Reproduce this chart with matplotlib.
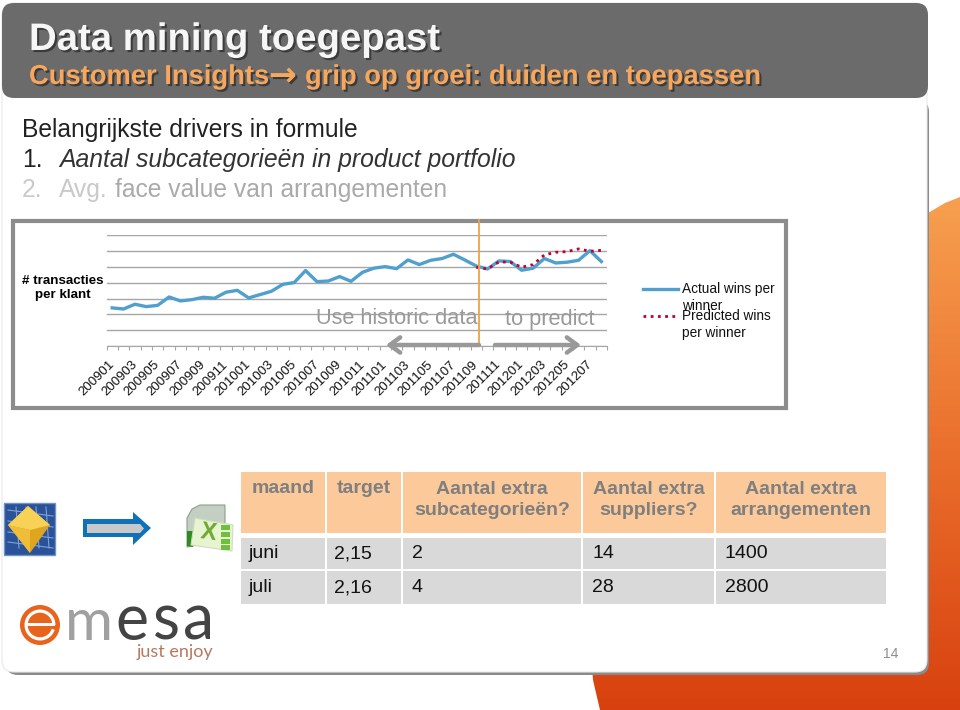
import numpy as np
import matplotlib
matplotlib.use('Agg')
import matplotlib.pyplot as plt
import matplotlib.patheffects as pe
from matplotlib.patches import FancyBboxPatch, Rectangle, Polygon, Circle, Wedge
from matplotlib.colors import LinearSegmentedColormap
from matplotlib.transforms import ScaledTranslation

plt.rcParams['font.family'] = ['Liberation Sans', 'DejaVu Sans']

# chart data
months = ['200901', '200902', '200903', '200904', '200905', '200906', '200907', '200908', '200909', '200910', '200911',
          '200912', '201001', '201002', '201003', '201004', '201005', '201006', '201007', '201008', '201009', '201010',
          '201011', '201012', '201101', '201102', '201103', '201104', '201105', '201106', '201107', '201108', '201109',
          '201110', '201111', '201112', '201201', '201202', '201203', '201204', '201205', '201206', '201207', '201208']
actual = [2.41, 2.34, 2.64, 2.49, 2.57, 3.10, 2.85, 2.93, 3.08, 3.02, 3.40, 3.52, 3.04, 3.25, 3.46, 3.90, 4.01, 4.77,
          4.07, 4.11, 4.39, 4.09, 4.66, 4.92, 5.02, 4.89, 5.44, 5.15, 5.42, 5.53, 5.80, 5.44, 5.06, 4.87, 5.38, 5.34,
          4.79, 4.92, 5.53, 5.25, 5.30, 5.42, 6.03, 5.34]
predicted = [4.98, 4.87, 5.32, 5.30, 4.98, 5.15, 5.76, 5.93, 5.97, 6.14, 5.99, 6.05]

# table data
table_header = ['maand', 'target', 'Aantal extra\nsubcategorieën?', 'Aantal extra\nsuppliers?', 'Aantal extra\narrangementen']
table_rows = [['juni', '2,15', '2', '14', '1400'],
              ['juli', '2,16', '4', '28', '2800']]

W, H = 960, 710
fig = plt.figure(figsize=(9.6, 7.1), dpi=100, facecolor='white')

# full page layer in pixel coordinates
bg = fig.add_axes([0, 0, 1, 1], zorder=1)
bg.axis('off')

# orange background, top lighter than bottom
cmap = LinearSegmentedColormap.from_list('bg', ['#f7a050', '#ea6f2c', '#d8410f'])
grad = bg.imshow(np.linspace(0, 1, 256).reshape(-1, 1), extent=[0, W, 710, 195], aspect='auto', cmap=cmap, zorder=1)
clip = Polygon([[960, 197], [945, 203], [928, 213], [900, 240], [900, 640], [590, 640], [593, 680], [600, 710], [960, 710]],
               closed=True, transform=bg.transData, facecolor='none', edgecolor='none')
bg.add_patch(clip)
grad.set_clip_path(clip)
bg.set_xlim(0, W)
bg.set_ylim(H, 0)

# slide with shadow
bg.add_patch(FancyBboxPatch((6, 100), 923, 575, boxstyle='round,pad=0,rounding_size=12', fc='#8a8a8a', ec='none', zorder=2))
bg.add_patch(FancyBboxPatch((2, 3), 925, 669, boxstyle='round,pad=0,rounding_size=12', fc='white', ec='#e8e8e8', lw=0.8, zorder=3))
bg.add_patch(FancyBboxPatch((2, 3), 926, 95, boxstyle='round,pad=0,rounding_size=12', fc='#6b6b6b', ec='none', zorder=4))

shadow = [pe.withSimplePatchShadow(offset=(1.5, -1.5), shadow_rgbFace='#303030', alpha=0.8)]
bg.text(29, 40, 'Data mining toegepast', color='#f6f6f6', fontsize=27.6, fontweight='bold', va='center', zorder=5, path_effects=shadow)
bg.text(29, 77, 'Customer Insights', color='#f6a75d', fontsize=19.7, fontweight='bold', va='center', zorder=5, path_effects=shadow)
bg.text(269, 76, '\u2192', color='#f6a75d', fontsize=24, fontweight='bold', family='DejaVu Sans', va='center', zorder=5, path_effects=shadow)
bg.text(305, 77, 'grip op groei: duiden en toepassen', color='#f6a75d', fontsize=19.7, fontweight='bold', va='center', zorder=5, path_effects=shadow)

bg.text(22, 130, 'Belangrijkste drivers in formule', color='#222222', fontsize=17.7, va='center', zorder=5)
bg.text(22, 160, '1.', color='#222222', fontsize=17.7, va='center', zorder=5)
bg.text(59, 160, 'Aantal subcategorieën in product portfolio', color='#333333', fontsize=17.8, style='italic', va='center', zorder=5)
bg.text(22, 190, '2.', color='#c9c9c9', fontsize=17.7, va='center', zorder=5)
bg.text(59, 190, 'Avg.', color='#c9c9c9', fontsize=17.7, va='center', zorder=5)
bg.text(115, 190, 'face value van arrangementen', color='#aaaaaa', fontsize=17.7, va='center', zorder=5)

# chart frame
bg.add_patch(Rectangle((13, 220.5), 773, 187, fc='white', ec='#8c8c8c', lw=3, zorder=5))

bg.text(63, 288, '# transacties\nper klant', color='black', fontsize=9.6, fontweight='bold', ha='center', va='center',
        linespacing=1.25, zorder=6)

# legend, written by hand because the entries overlap in the original
bg.plot([643, 678], [288.5, 288.5], color='#4f9fcf', lw=2.4, zorder=6)
bg.plot([643, 675], [316, 316], color='#c00030', lw=2, ls=(0, (1, 1.6)), zorder=6)
bg.text(682, 297.5, 'Actual wins per\nwinner', fontsize=9.8, color='#111111', ha='left', va='center', linespacing=1.3, zorder=6)
bg.text(682, 324.5, 'Predicted wins\nper winner', fontsize=9.8, color='#111111', ha='left', va='center', linespacing=1.3, zorder=6)

# line chart
left, right, top, bottom = 106.5, 607, 235.3, 346
ax = fig.add_axes([left / W, 1 - bottom / H, (right - left) / W, (bottom - top) / H], zorder=6)
ax.patch.set_alpha(0)
x = np.arange(len(months))
ax.plot(x, actual, color='#4f9fcf', lw=2.4, label='Actual wins per winner', zorder=3)
ax.plot(x[32:], predicted, color='#c00030', lw=2, ls=(0, (1, 1.6)), label='Predicted wins per winner', zorder=4)
ax.set_xlim(-0.5, len(months) - 0.5)
ax.set_ylim(0, 7)
ax.set_yticks(range(8))
ax.set_yticklabels([])
ax.tick_params(axis='y', length=0)
ax.grid(axis='y', color='#a6a6a6', lw=1)
ax.set_axisbelow(True)
ax.set_xticks(x[::2])
ax.set_xticklabels(months[::2], rotation=45, ha='right', rotation_mode='anchor', fontsize=9.5, color='#111111')
ax.set_xticks(np.arange(len(months) + 1) - 0.5, minor=True)
ax.tick_params(axis='x', which='major', length=0, pad=9)
ax.tick_params(axis='x', which='minor', length=3, color='#a6a6a6', width=0.8)
shift = ScaledTranslation(-4 / 100, 0, fig.dpi_scale_trans)
for lab in ax.get_xticklabels():
    lab.set_transform(lab.get_transform() + shift)
for s in ['top', 'left', 'right']:
    ax.spines[s].set_visible(False)
ax.spines['bottom'].set_color('#a6a6a6')

# annotations on top of the chart
top_layer = fig.add_axes([0, 0, 1, 1], zorder=7)
top_layer.axis('off')
top_layer.set_xlim(0, W)
top_layer.set_ylim(H, 0)
top_layer.plot([479, 479], [220, 346], color='#f0a04b', lw=1.3)
top_layer.text(316, 319, 'Use historic data', fontsize=15.7, color='#999999', va='center')
top_layer.text(505, 319, 'to predict', fontsize=15.7, color='#999999', va='center')
arrow_style = dict(arrowstyle='->,head_width=0.55,head_length=0.75', color='#999999', lw=3.2, shrinkA=0, shrinkB=0)
top_layer.annotate('', xy=(386, 345), xytext=(479, 345), arrowprops=arrow_style)
top_layer.annotate('', xy=(581, 345), xytext=(495, 345), arrowprops=arrow_style)

# table
col_edges = [(241, 325), (327, 401), (403, 581), (583, 714), (716, 886)]
row_edges = [(538, 569), (571, 604)]
text_x = [249, 334, 412, 592, 725]
for (x0, x1), label in zip(col_edges, table_header):
    bg.add_patch(Rectangle((x0, 472), x1 - x0, 61, fc='#fbc99a', ec='none', zorder=5))
    bg.text((x0 + x1) / 2, 500 if '\n' in label else 488.5, label, color='#7f7f7f', fontsize=14, fontweight='bold', ha='center', va='center',
            linespacing=1.3, zorder=6)
for (y0, y1), row in zip(row_edges, table_rows):
    for (x0, x1), tx, val in zip(col_edges, text_x, row):
        bg.add_patch(Rectangle((x0, y0), x1 - x0, y1 - y0, fc='#d9d9d9', ec='none', zorder=5))
        bg.text(tx, (y0 + y1) / 2 + 5, val, color='#111111', fontsize=14, va='baseline', zorder=6)

bg.text(891, 654, '14', color='#8c8c8c', fontsize=10, ha='center', va='center', zorder=6)

# cube icon
bg.add_patch(Rectangle((4, 503), 51, 52, fc='#2a5298', ec='#6f93c8', lw=1, zorder=5))
for gx in [16, 26, 36, 46]:
    bg.plot([gx, gx + 3], [507, 548], color='#7fa3d8', lw=0.8, zorder=5)
for gy in [513, 524, 535, 545]:
    bg.plot([8, 53], [gy - 3, gy + 3], color='#7fa3d8', lw=0.8, zorder=5)
bg.add_patch(Polygon([[28, 506], [50, 525], [30, 553], [8, 525]], fc='#dfa51f', ec='none', zorder=6))
bg.add_patch(Polygon([[28, 506], [50, 525], [30, 530], [8, 525]], fc='#f8d257', ec='none', zorder=6))
bg.add_patch(Polygon([[8, 525], [30, 530], [30, 553]], fc='#efbd38', ec='none', zorder=6))

# blue arrow
bg.add_patch(Polygon([[83, 519], [133, 519], [133, 512], [151, 528], [133, 545], [133, 537], [83, 537]], fc='#0f72b8', ec='none', zorder=5))
bg.add_patch(Polygon([[87, 524], [140, 524], [144, 528.5], [140, 533], [87, 533]], fc='#c8c8c8', ec='none', zorder=6))

# excel icon
bg.add_patch(Polygon([[187, 547], [187, 518], [192, 509], [200, 505], [225, 505], [225, 540]], fc='#c3cfc3', ec='#8aa08a', lw=0.8, zorder=5))
bg.add_patch(Polygon([[187, 531], [194, 531], [193, 547], [187, 546]], fc='#2e8b1d', ec='none', zorder=5))
bg.add_patch(Polygon([[195, 518], [233, 525], [232, 551], [191, 545]], fc='#e6f4cf', ec='#d0dcc0', lw=0.8, zorder=6))
bg.text(208, 533, 'X', color='#6fa82f', fontsize=17, fontweight='bold', ha='center', va='center', rotation=-8, zorder=7)
for gy in [525, 532, 539, 545]:
    bg.add_patch(Rectangle((221, gy), 9, 5, fc='#6fbf3f', ec='none', zorder=7))

# emesa logo, strokes thinned with a white outline
thin = [pe.withStroke(linewidth=1.2, foreground='white')]
bg.add_patch(Circle((40, 625), 20, fc='#e8641c', ec='none', zorder=6))
bg.add_patch(Wedge((40, 625), 15.5, 18, 360, width=3.2, fc='white', ec='none', zorder=7))
bg.add_patch(Rectangle((25, 623), 30, 3.2, fc='white', ec='none', zorder=7))
bg.text(65, 640, 'm', color='#a0a0a0', fontsize=42, family='Lato', va='baseline', zorder=6)
for lx, ch in zip([115, 153, 183], 'esa'):
    bg.text(lx, 640, ch, color='#444444', fontsize=45, family='Lato', va='baseline', zorder=6)
bg.text(213, 652, 'just enjoy', color='#b57a5e', fontsize=13, family='Lato', ha='right', va='center', zorder=6)

fig.savefig('out.png', dpi=100, facecolor='white')
